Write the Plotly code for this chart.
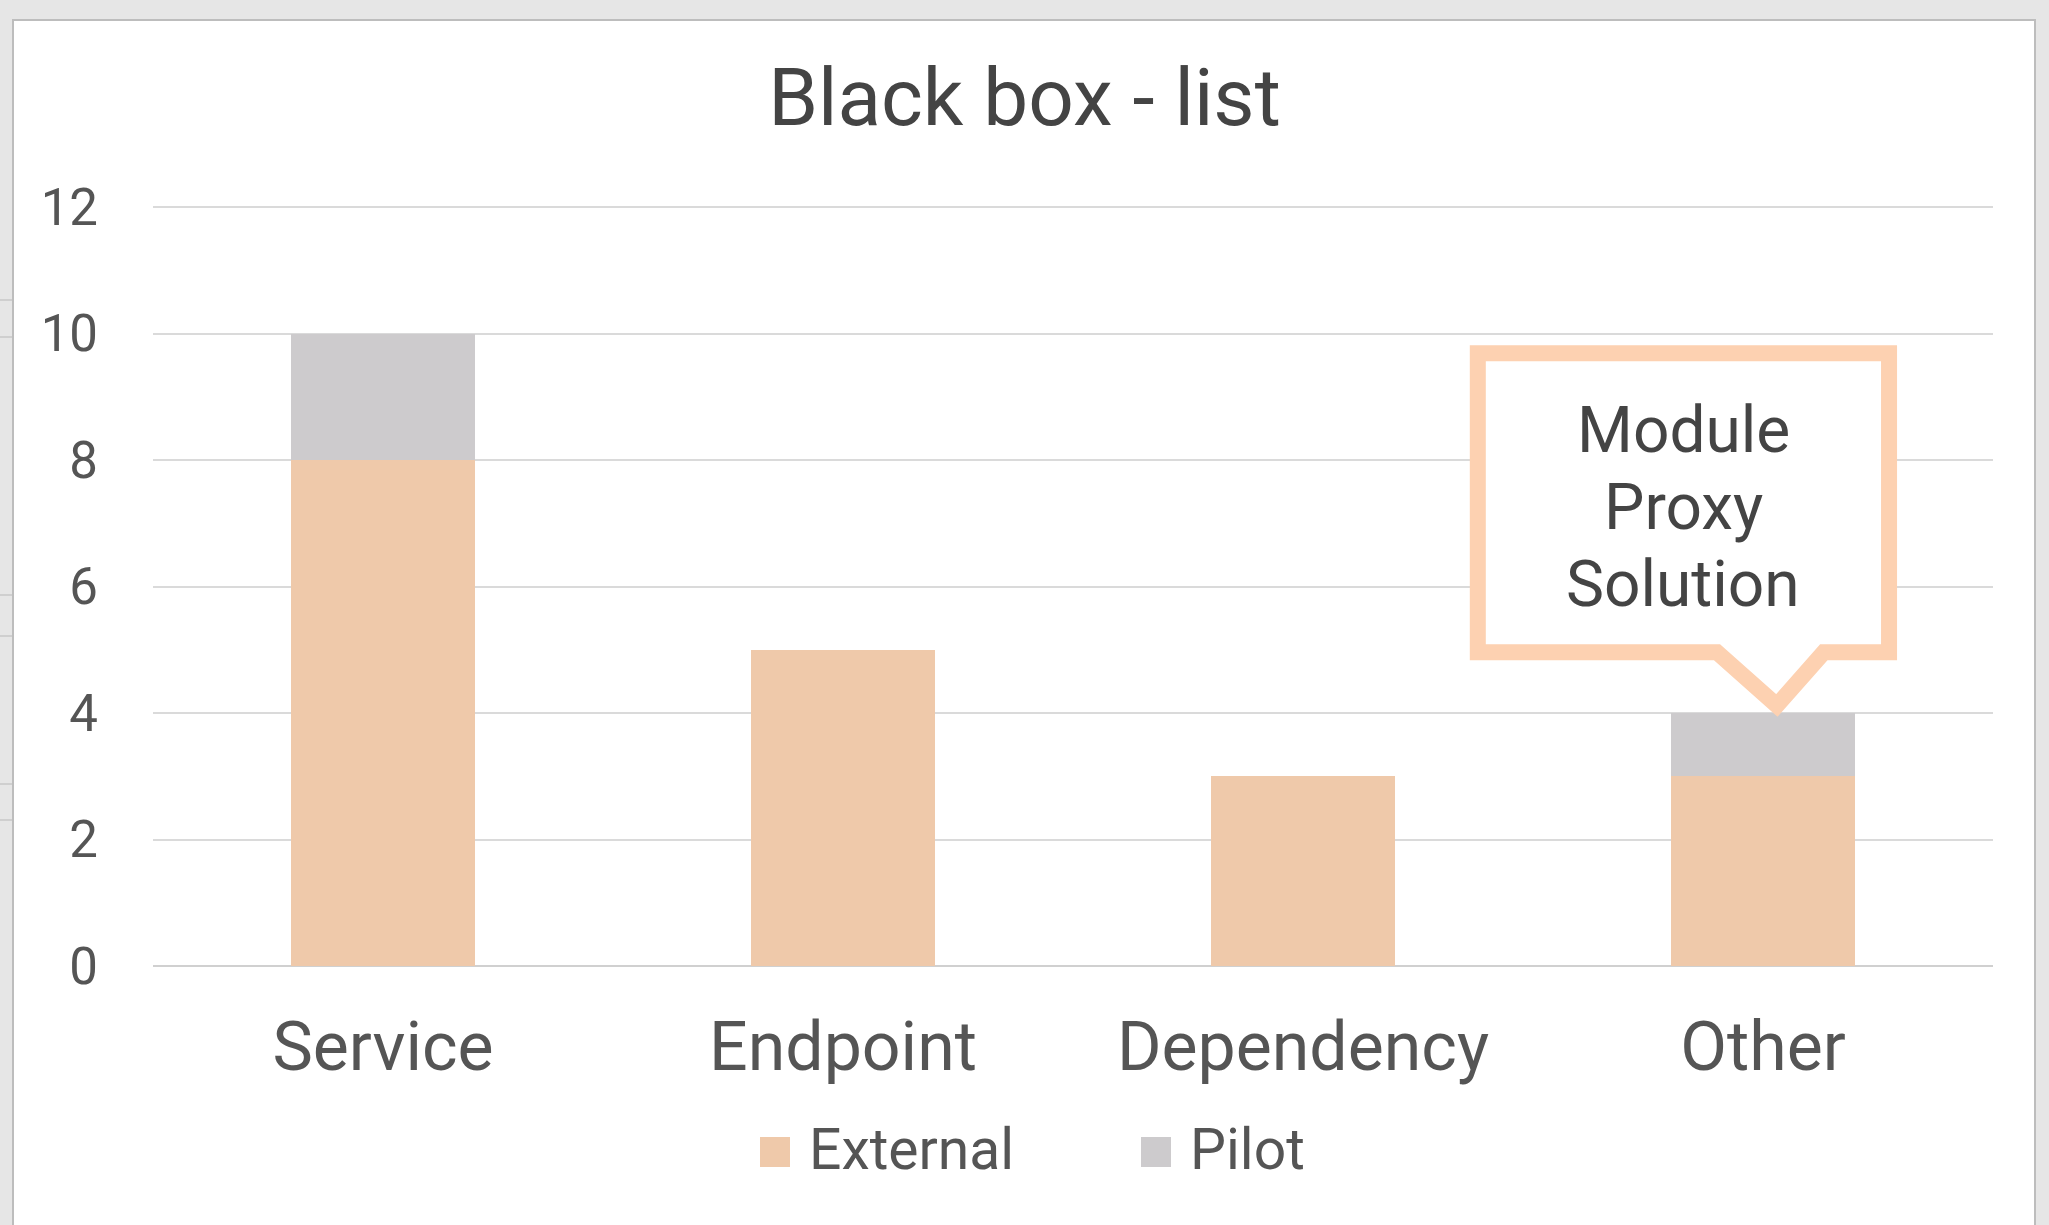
import plotly.graph_objects as go

# ---- data ----
categories = ["Service", "Endpoint", "Dependency", "Other"]
external = [8, 5, 3, 3]
pilot = [2, 0, 0, 1]
y_ticks = [0, 2, 4, 6, 8, 10, 12]

callout_lines = ["Module", "Proxy", "Solution"]
callout_category = "Other"

# ---- styling ----
EXTERNAL_COLOR = "#EFC9AA"
PILOT_COLOR = "#CDCBCD"
CALLOUT_COLOR = "#FDD1B1"
TEXT_DARK = "#444444"
TEXT_AXIS = "#555555"
FONT = "Roboto"

W, H = 2049, 1225
Y_TOP = 12.05  # a little headroom so the top gridline is drawn
L, R, T, B = 153, 56, 204, 259
PW, PH = W - L - R, H - T - B


def px_to_paper(px, py):
    return (px - L) / PW, (H - B - py) / PH


fig = go.Figure()
fig.add_bar(x=categories, y=external, name="External", marker_color=EXTERNAL_COLOR,
            marker_line_width=0, showlegend=False)
fig.add_bar(x=categories, y=pilot, name="Pilot", marker_color=PILOT_COLOR,
            marker_line_width=0, showlegend=False)

shapes = []

# white card on a light grey window background
cx0, cy1 = px_to_paper(13, 20)
cx1, cy0 = px_to_paper(2035, 1240)
shapes.append(dict(type="rect", xref="paper", yref="paper", x0=cx0, x1=cx1, y0=cy0, y1=cy1,
                   fillcolor="white", line=dict(color="#BDBDBD", width=2), layer="below"))

# faint spreadsheet lines peeking out on the left edge
for py in [300, 337, 595, 636, 784, 820]:
    x0, y = px_to_paper(0, py)
    x1, _ = px_to_paper(12, py)
    shapes.append(dict(type="line", xref="paper", yref="paper", x0=x0, x1=x1, y0=y, y1=y,
                       line=dict(color="#B8B8B8", width=1), layer="below"))

# speech-bubble callout pointing at the top of the "Other" stack
idx = categories.index(callout_category)
top = external[idx] + pilot[idx]
bx0, bx1 = idx - 0.620, idx + 0.274
by0, by1 = top + 0.96, top + 5.69
tip_x, tip_y = idx + 0.030, top + 0.12
base_l, base_r = idx - 0.100, idx + 0.132
path = (f"M {bx0},{by1} L {bx1},{by1} L {bx1},{by0} L {base_r},{by0} "
        f"L {tip_x},{tip_y} L {base_l},{by0} L {bx0},{by0} Z")
shapes.append(dict(type="path", path=path, xref="x", yref="y", fillcolor="white",
                   line=dict(color=CALLOUT_COLOR, width=16), layer="above"))

annotations = []
line_offsets = [4.47, 3.25, 2.04]
for text, dy in zip(callout_lines, line_offsets):
    annotations.append(dict(text=text, x=(bx0 + bx1) / 2, y=top + dy, xref="x", yref="y",
                            showarrow=False, font=dict(family=FONT, size=64, color=TEXT_DARK),
                            xanchor="center", yanchor="middle", align="center"))

# legend drawn as swatches + labels, centred on the card
legend_items = [("External", EXTERNAL_COLOR, 760), ("Pilot", PILOT_COLOR, 1141)]
for name, color, sx in legend_items:
    x0, y1 = px_to_paper(sx, 1137)
    x1, y0 = px_to_paper(sx + 30, 1167)
    shapes.append(dict(type="rect", xref="paper", yref="paper", x0=x0, x1=x1, y0=y0, y1=y1,
                       fillcolor=color, line=dict(width=0)))
    tx, ty = px_to_paper(sx + 47, 1149)
    annotations.append(dict(text=name, x=tx, y=ty, xref="paper", yref="paper",
                            showarrow=False, xanchor="left", yanchor="middle",
                            font=dict(family=FONT, size=57, color=TEXT_AXIS)))

fig.update_layout(
    width=W, height=H,
    margin=dict(l=L, r=R, t=T, b=B, pad=0),
    paper_bgcolor="#E6E6E6",
    plot_bgcolor="rgba(0,0,0,0)",
    barmode="stack",
    bargap=0.6,
    title=dict(text="Black box - list", x=0.5, xanchor="center", y=1 - 97 / H,
               yanchor="middle", font=dict(family=FONT, size=80, color=TEXT_DARK)),
    xaxis=dict(showgrid=False, showline=False, zeroline=False, ticks="",
               tickfont=dict(family=FONT, size=68, color=TEXT_AXIS),
               ticklabelstandoff=35, range=[-0.5, 3.5]),
    yaxis=dict(range=[0, Y_TOP], tickvals=y_ticks, showgrid=True, gridcolor="#DADADA",
               gridwidth=2, zeroline=True, zerolinecolor="#D0D0D0", zerolinewidth=2,
               showline=False, ticks="", tickfont=dict(family=FONT, size=51, color=TEXT_AXIS),
               ticklabelstandoff=54),
    shapes=shapes,
    annotations=annotations,
    showlegend=False,
)

fig.write_html("out.html")
